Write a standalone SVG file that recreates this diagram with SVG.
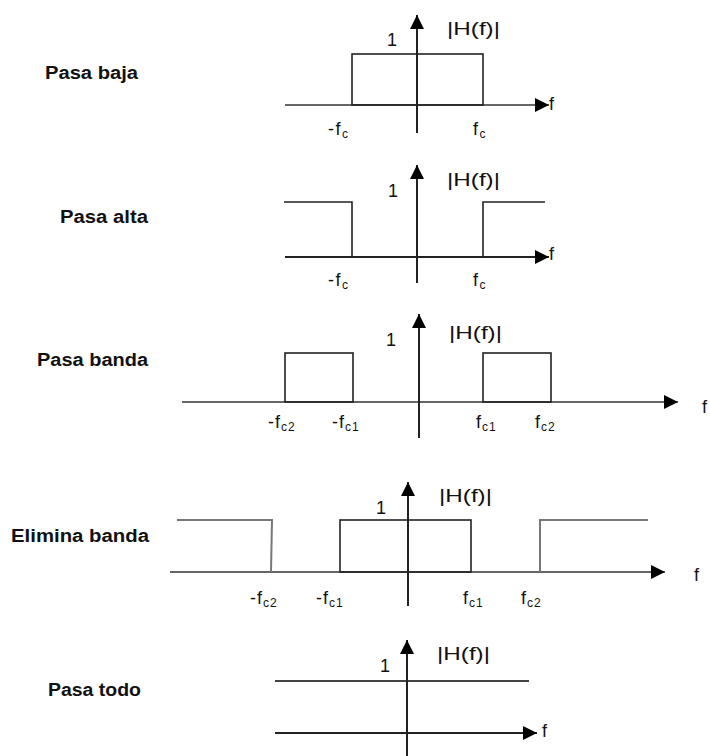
<svg xmlns="http://www.w3.org/2000/svg" width="710" height="756" viewBox="0 0 710 756">
<style>
.lbl{font-family:"Liberation Sans",Arial,sans-serif;font-weight:bold;font-size:18px;fill:#111}
.t{font-family:"Liberation Sans",Arial,sans-serif;font-size:18px;fill:#111}
.sub{font-size:12px}
.ax{stroke:#222;stroke-width:2;fill:none;marker-end:url(#arr)}
.axg{stroke:#666;stroke-width:2.2;fill:none;marker-end:url(#arr)}
.bx{stroke:#222;stroke-width:1.6;fill:none}
.gl{stroke:#777;stroke-width:2;fill:none}
</style>
<defs>
<marker id="arr" markerUnits="userSpaceOnUse" markerWidth="15" markerHeight="14" refX="14" refY="7" orient="auto">
<path d="M0,0 L14,7 L0,14 z" fill="#000"/>
</marker>
</defs>
<rect width="710" height="756" fill="#fff"/>

<g id="pasa-baja">
<text class="lbl" x="45" y="79" textLength="93" lengthAdjust="spacingAndGlyphs">Pasa baja</text>
<line class="axg" x1="285" y1="105" x2="549" y2="105"/>
<line class="ax" x1="417" y1="133" x2="417" y2="15"/>
<rect class="bx" x="352" y="54" width="131" height="51"/>
<text class="t" x="387" y="46">1</text>
<text class="t" x="447" y="35" textLength="53" lengthAdjust="spacingAndGlyphs">|H(f)|</text>
<text class="t" x="549" y="110">f</text>
<text class="t" x="328" y="135" letter-spacing="1.5">-f<tspan class="sub" dy="3">c</tspan></text>
<text class="t" x="473" y="135" letter-spacing="1.5">f<tspan class="sub" dy="3">c</tspan></text>
</g>

<g id="pasa-alta">
<text class="lbl" x="60" y="223" textLength="88" lengthAdjust="spacingAndGlyphs">Pasa alta</text>
<line class="ax" x1="285" y1="257" x2="549" y2="257"/>
<line class="ax" x1="417" y1="283" x2="417" y2="165"/>
<path class="bx" d="M284,202 H352 V257"/>
<path class="bx" d="M483,257 V202 H545"/>
<text class="t" x="388" y="197">1</text>
<text class="t" x="447" y="186" textLength="53" lengthAdjust="spacingAndGlyphs">|H(f)|</text>
<text class="t" x="549" y="260">f</text>
<text class="t" x="328" y="286" letter-spacing="1.5">-f<tspan class="sub" dy="3">c</tspan></text>
<text class="t" x="473" y="286" letter-spacing="1.5">f<tspan class="sub" dy="3">c</tspan></text>
</g>

<g id="pasa-banda">
<text class="lbl" x="37" y="366" textLength="111" lengthAdjust="spacingAndGlyphs">Pasa banda</text>
<line class="axg" x1="182" y1="402" x2="678" y2="402"/>
<line class="ax" x1="419" y1="438" x2="419" y2="314"/>
<rect class="bx" x="285" y="353" width="68" height="49"/>
<rect class="bx" x="483" y="353" width="68" height="49"/>
<text class="t" x="386" y="346">1</text>
<text class="t" x="449" y="339" textLength="53" lengthAdjust="spacingAndGlyphs">|H(f)|</text>
<text class="t" x="702" y="413">f</text>
<text class="t" x="268" y="428" letter-spacing="1">-f<tspan class="sub" dy="3">c2</tspan></text>
<text class="t" x="332" y="428" letter-spacing="1">-f<tspan class="sub" dy="3">c1</tspan></text>
<text class="t" x="476" y="428" letter-spacing="1">f<tspan class="sub" dy="3">c1</tspan></text>
<text class="t" x="535" y="428" letter-spacing="1">f<tspan class="sub" dy="3">c2</tspan></text>
</g>

<g id="elimina-banda">
<text class="lbl" x="11" y="542" textLength="138" lengthAdjust="spacingAndGlyphs">Elimina banda</text>
<line class="axg" x1="170" y1="572" x2="665" y2="572"/>
<line class="ax" x1="408" y1="606" x2="408" y2="482"/>
<path class="gl" d="M177,520 H272 L271,572"/>
<rect class="bx" x="340" y="520" width="131" height="52"/>
<path class="gl" d="M540,572 V520 H648"/>
<text class="t" x="376" y="514">1</text>
<text class="t" x="439" y="502" textLength="53" lengthAdjust="spacingAndGlyphs">|H(f)|</text>
<text class="t" x="694" y="581">f</text>
<text class="t" x="250" y="604" letter-spacing="1">-f<tspan class="sub" dy="3">c2</tspan></text>
<text class="t" x="316" y="604" letter-spacing="1">-f<tspan class="sub" dy="3">c1</tspan></text>
<text class="t" x="463" y="604" letter-spacing="1">f<tspan class="sub" dy="3">c1</tspan></text>
<text class="t" x="521" y="604" letter-spacing="1">f<tspan class="sub" dy="3">c2</tspan></text>
</g>

<g id="pasa-todo">
<text class="lbl" x="48" y="696" textLength="93" lengthAdjust="spacingAndGlyphs">Pasa todo</text>
<line stroke="#444" stroke-width="2" x1="275" y1="681" x2="529" y2="681"/>
<line class="ax" x1="275" y1="733" x2="537" y2="733"/>
<line class="ax" x1="407" y1="756" x2="407" y2="640"/>
<text class="t" x="380" y="672">1</text>
<text class="t" x="437" y="660" textLength="53" lengthAdjust="spacingAndGlyphs">|H(f)|</text>
<text class="t" x="542" y="737">f</text>
</g>
</svg>
